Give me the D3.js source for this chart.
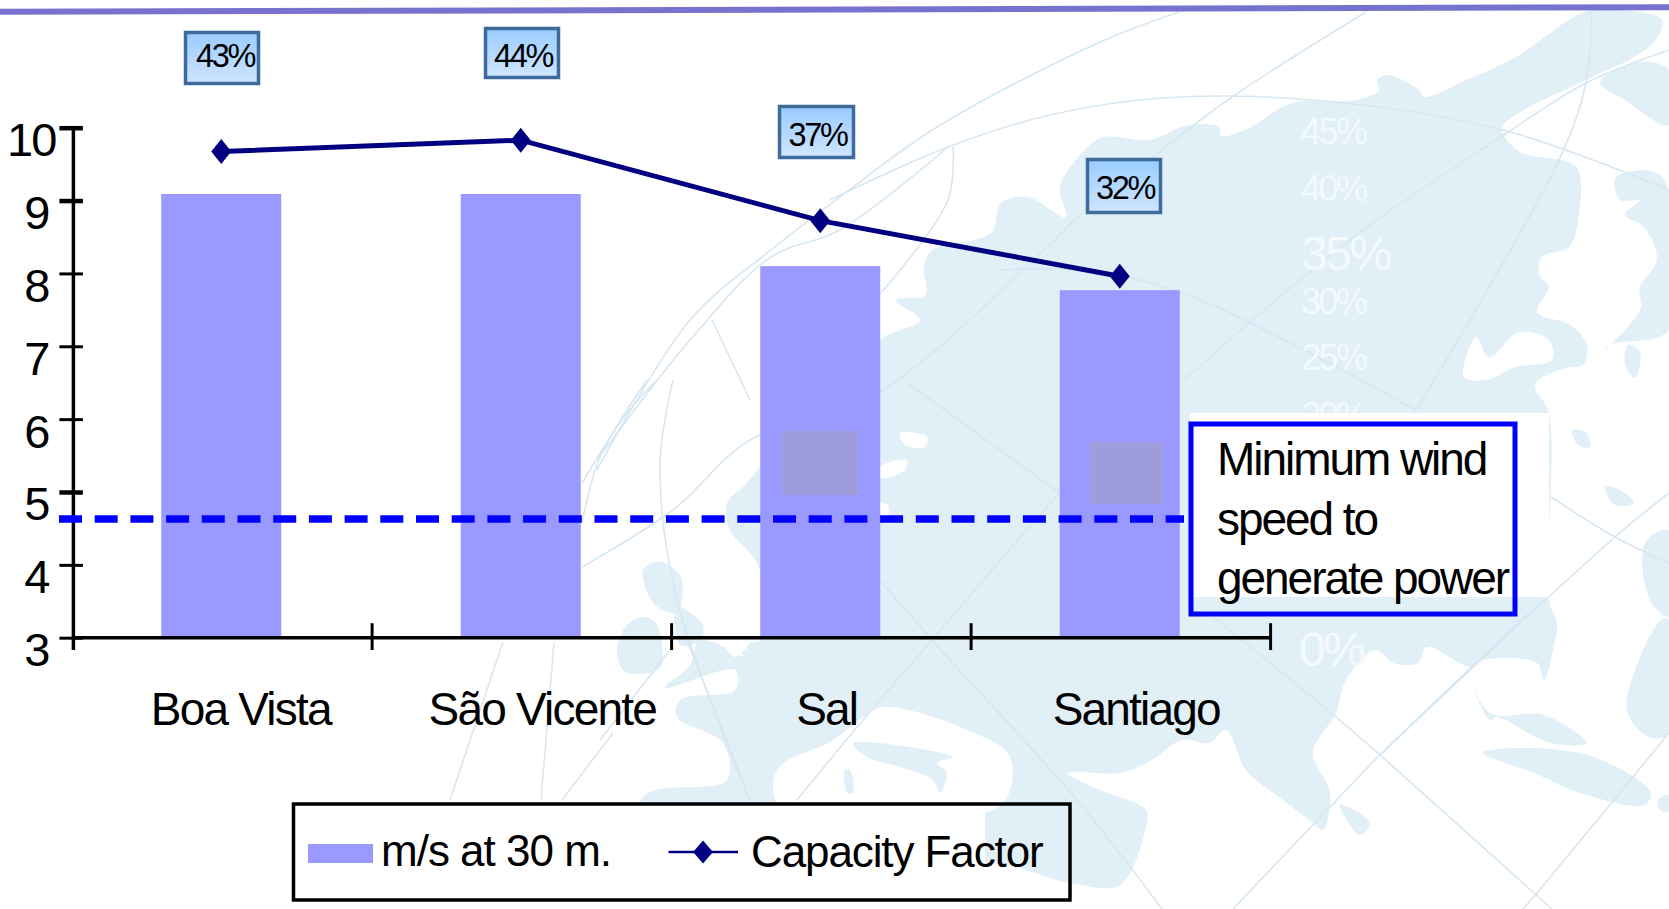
<!DOCTYPE html>
<html><head><meta charset="utf-8">
<style>html,body{margin:0;padding:0;background:#fff}svg{display:block}text{font-family:"Liberation Sans",Arial,sans-serif;fill:#000}</style>
<script src="https://cdn.jsdelivr.net/npm/d3@7"></script></head><body>
<svg id="c" width="1669" height="909"></svg>
<script>
// ---- chart data ----
const categories = ["Boa Vista", "São Vicente", "Sal", "Santiago"];
const windSpeed = [9.09, 9.09, 8.1, 7.77];
const capacityFactor = [42.9, 43.9, 36.8, 31.9];
const capacityLabels = ["43%", "44%", "37%", "32%"];
const minWindSpeed = 4.63;
const speedTicks = [3, 4, 5, 6, 7, 8, 9, 10];
const ghostPercentTicks = [45, 40, 35, 30, 25, 20, 0];
const seriesNames = ["m/s at 30 m.", "Capacity Factor"];
const noteLines = ["Minimum wind", "speed to", "generate power"];

// ---- layout (not data) ----
const labelBoxes = [[184, 31, 76, 54], [484, 27, 76, 52], [778, 105, 77, 54], [1086, 158, 76, 56]];
const labelBaselines = [36, 40, 41, 41];
const catLabelDx = [19, 21, 6, 16];
const ghostStyle = {45:[1301,144,36],40:[1301,201,36],35:[1301,270,48],30:[1301,314,36],25:[1301,370,36],20:[1301,428,36],0:[1299,666,48]};
const grayPatches = [[782, 431, 76, 64], [1090, 442, 73, 62]];

// ---- decorative background map (pale world map behind the chart) ----
const mainLand = [[924,267],[932,250],[991,233],[1001,203],[1028,197],[1066,217],[1060,187],[1085,150],[1103,137],[1149,140],[1189,125],[1219,127],[1221,136],[1249,128],[1292,103],[1356,100],[1379,90],[1377,80],[1387,75],[1419,90],[1424,97],[1466,80],[1516,57],[1569,20],[1592,10],[1640,12],[1662,20],[1656,40],[1629,60],[1592,77],[1502,127],[1507,140],[1522,153],[1576,167],[1579,213],[1569,247],[1542,257],[1539,275],[1549,287],[1537,312],[1570,325],[1587,345],[1583,365],[1565,368],[1535,385],[1549,413],[1549,600],[1557,623],[1555,640],[1544,680],[1537,663],[1483,660],[1470,667],[1427,647],[1418,663],[1393,663],[1376,650],[1346,680],[1336,713],[1313,753],[1330,793],[1323,830],[1313,823],[1283,800],[1246,770],[1226,730],[1209,743],[1182,740],[1149,762],[1120,773],[1067,773],[1100,790],[1146,810],[1146,827],[1120,885],[1075,884],[985,862],[640,880],[643,797],[727,780],[723,743],[677,717],[680,700],[735,690],[735,670],[665,688],[690,665],[700,640],[745,657],[725,640],[760,640],[760,570],[750,553],[730,530],[727,503],[747,483],[760,467],[880,340],[920,320],[895,300],[925,295]];
const seaPatches = [
 [[883,707],[967,730],[1010,757],[1000,806],[780,806],[777,770],[833,740],[863,717]],
 [[1476,337],[1489,357],[1519,332],[1549,340],[1552,360],[1516,367],[1486,380],[1464,377]],
 [[900,433],[927,437],[925,447],[905,445]],
 [[880,467],[907,460],[905,470],[880,478]],
 [[880,503],[888,505],[888,515],[880,515]],
 [[723,640],[750,640],[735,657]]
];
const landPatches = [
 [[853,743],[953,757],[937,763],[947,773],[940,793],[933,780],[900,767],[867,757]],
 [[845,770],[850,770],[853,793],[847,793]],
 [[643,570],[660,562],[680,575],[682,600],[677,613],[655,605]],
 [[627,625],[645,617],[657,625],[662,645],[660,668],[625,672],[617,650]],
 [[677,607],[703,625],[700,640],[680,645]],
 [[1340,805],[1370,823],[1360,835],[1350,825]],
 [[1483,753],[1517,748],[1594,757],[1651,793],[1644,805],[1580,793],[1534,773]],
 [[1467,670],[1490,713],[1544,715],[1587,743],[1550,743],[1497,717],[1490,720]],
 [[1661,620],[1627,710],[1651,738],[1669,733],[1669,620]],
 [[1658,800],[1669,795],[1669,812],[1660,810]],
 [[1600,82],[1625,100],[1669,125],[1669,70],[1640,62]],
 [[1616,177],[1654,172],[1669,190],[1669,330],[1610,345],[1600,355],[1640,310],[1640,287],[1657,260],[1644,227],[1625,215],[1640,200],[1620,200]],
 [[1628,345],[1640,352],[1635,378],[1625,365]],
 [[1605,487],[1620,490],[1634,503],[1615,505]],
 [[1645,543],[1669,530],[1669,617],[1650,600]],
 [[1572,430],[1585,432],[1590,447],[1578,445]]
];
const gridCurves = [
 [[830,200],[948,147],[1050,115],[1162,98],[1312,100],[1503,130],[1669,190]],
 [[597,460],[696,333],[771,257],[840,230],[948,147]],
 [[597,470],[690,320],[771,250],[840,197],[937,127],[1098,43],[1179,12]],
 [[1366,12],[1232,97],[1162,150],[1082,213],[1044,250],[878,393],[750,440],[673,510],[582,567]],
 [[953,147],[948,200],[881,293]],
 [[712,320],[750,400]],
 [[673,380],[660,463],[677,600],[750,800]],
 [[657,380],[627,413],[582,483]],
 [[647,380],[600,457],[582,523]],
 [[503,642],[450,800]],
 [[554,643],[541,800]],
 [[613,733],[562,800]],
 [[1000,270],[1090,270],[1182,293],[1249,322],[1416,410]],
 [[1213,617],[1336,717],[1380,755],[1534,893],[1552,909]],
 [[1181,383],[1249,323],[1359,233],[1507,133],[1586,83],[1669,50]],
 [[1592,10],[1586,83],[1559,160],[1416,410]],
 [[1543,600],[1380,755],[1330,807],[1233,909]],
 [[1669,733],[1537,893],[1523,909]],
 [[1551,497],[1615,537],[1669,563]],
 [[1669,493],[1615,537],[1382,753]],
 [[880,580],[932,640],[1077,800],[1162,909]],
 [[907,383],[1060,493]],
 [[1060,493],[1044,510],[932,640],[863,720],[797,800]],
 [[687,640],[750,800]],
 [[670,650],[600,740]]
];

// ---- scales ----
const W = 1669, H = 909;
const svg = d3.select("#c");
const x = d3.scaleBand().domain(categories).range([72, 1270]).padding(0);
const y = d3.scaleLinear().domain([3, 10]).range([637.7, 127.7]);
const yCap = d3.scaleLinear().domain([0, 45]).range([637.7, 127.7]);
const barW = 120;

// ---- background ----
const land = "#e1eff7", gridCol = "#d6e7f2";
svg.append("defs").append("filter").attr("id","soft").append("feGaussianBlur").attr("stdDeviation",0.7);
const bg = svg.append("g").attr("filter","url(#soft)");
const poly = d3.line().curve(d3.curveCatmullRomClosed.alpha(0.5));
const curve = d3.line().curve(d3.curveCatmullRom.alpha(0.5));
bg.append("path").attr("d", poly(mainLand)).attr("fill", land);
bg.selectAll("path.sea").data(seaPatches).join("path").attr("class","sea").attr("d", poly).attr("fill", "#fff");
bg.selectAll("path.isl").data(landPatches).join("path").attr("class","isl").attr("d", poly).attr("fill", land);
bg.selectAll("path.grid").data(gridCurves).join("path").attr("class","grid").attr("d", curve)
  .attr("fill","none").attr("stroke",gridCol).attr("stroke-width",1.6);

// header rule
svg.append("line").attr("x1",0).attr("y1",11.8).attr("x2",W).attr("y2",7.2)
  .attr("stroke","#7672cd").attr("stroke-width",6);

// ghost white percent labels of the underlying slide
svg.append("g").selectAll("text").data(ghostPercentTicks).join("text")
  .attr("x", d => ghostStyle[d][0]).attr("y", d => ghostStyle[d][1])
  .attr("font-size", d => ghostStyle[d][2]).attr("letter-spacing", -2.5)
  .style("fill","#f4f9fc").text(d => d + "%");

// white patches hiding the background
svg.append("rect").attr("x",1190).attr("y",413).attr("width",359).attr("height",184).attr("fill","#fff");
svg.append("rect").attr("x",293).attr("y",804).attr("width",692).attr("height",96).attr("fill","#fff");

// ---- bars ----
svg.append("g").selectAll("rect").data(categories).join("rect")
  .attr("x", d => x(d) + x.bandwidth()/2 - barW/2 - 0.5)
  .attr("width", barW)
  .attr("y", (d,i) => y(windSpeed[i]))
  .attr("height", (d,i) => y(3) - y(windSpeed[i]))
  .attr("fill", "#9999ff");
svg.append("g").selectAll("rect").data(grayPatches).join("rect")
  .attr("x", d=>d[0]).attr("y", d=>d[1]).attr("width", d=>d[2]).attr("height", d=>d[3]).attr("fill","#9f9cdc");

// ---- axes ----
const gy = svg.append("g").attr("transform","translate(73.4,0)")
  .call(d3.axisLeft(y).tickValues(speedTicks).tickFormat(d3.format("d")).tickSize(14).tickPadding(0));
gy.select(".domain").attr("d","M0,127.7V650").attr("stroke","#000").attr("stroke-width",3.5);
gy.selectAll(".tick line").attr("x1",-14).attr("x2",9.5).attr("stroke","#000").attr("stroke-width",d=>d>=9||d==5?4.5:3);
gy.selectAll(".tick text").attr("x",d=>d===10?-18:-25).attr("y",0).attr("dy",28)
  .attr("font-size",47).attr("letter-spacing",-2).attr("font-family",'"Liberation Sans"').style("fill","#000");

const gx = svg.append("g").attr("transform","translate(0,637.7)")
  .call(d3.axisBottom(x).tickSize(0).tickPadding(0));
gx.select(".domain").attr("d","M73.4,0H1270").attr("stroke","#000").attr("stroke-width",3.5);
gx.selectAll(".tick text").attr("y",87).attr("dy",0).attr("dx",(d,i)=>catLabelDx[i])
  .attr("font-size",46).attr("letter-spacing",-1.8).attr("font-family",'"Liberation Sans"').style("fill","#000");
gx.selectAll(".sep").data(categories).join("line").attr("class","sep")
  .attr("x1",d=>x(d)+x.bandwidth()+0.6).attr("x2",d=>x(d)+x.bandwidth()+0.6).attr("y1",-14.5).attr("y2",12.3)
  .attr("stroke","#000").attr("stroke-width",3);

// ---- threshold ----
svg.append("line").attr("x1",59).attr("x2",1184).attr("y1",y(minWindSpeed)).attr("y2",y(minWindSpeed))
  .attr("stroke","#0000ff").attr("stroke-width",7.5).attr("stroke-dasharray","23 12.7");

// ---- capacity factor line ----
const cx = d => x(d) + x.bandwidth()/2 - 0.5;
const diamond = (w,h) => `M0,${-h}L${w},0L0,${h}L${-w},0Z`;
svg.append("path").attr("d", d3.line().x(d=>cx(d)).y((d,i)=>yCap(capacityFactor[i]))(categories))
  .attr("fill","none").attr("stroke","#000080").attr("stroke-width",5);
svg.append("g").selectAll("path").data(categories).join("path")
  .attr("transform",(d,i)=>`translate(${cx(d)},${yCap(capacityFactor[i])})`)
  .attr("d",diamond(10,12.5)).attr("fill","#000080");

// ---- value labels ----
const grad = svg.select("defs").append("linearGradient").attr("id","lb").attr("x1",0).attr("x2",0).attr("y1",0).attr("y2",1);
grad.append("stop").attr("offset",0).attr("stop-color","#99ccff");
grad.append("stop").attr("offset",1).attr("stop-color","#cfe5ff");
const lab = svg.append("g").selectAll("g").data(capacityLabels).join("g")
  .attr("transform",(d,i)=>`translate(${labelBoxes[i][0]},${labelBoxes[i][1]})`);
lab.append("rect").attr("x",1.5).attr("y",1.5)
  .attr("width",(d,i)=>labelBoxes[i][2]-3).attr("height",(d,i)=>labelBoxes[i][3]-3)
  .attr("fill","url(#lb)").attr("stroke","#3f6a9c").attr("stroke-width",3.5);
lab.append("text").attr("x",(d,i)=>labelBoxes[i][2]/2+(i==0?3:1)).attr("y",(d,i)=>labelBaselines[i])
  .attr("text-anchor","middle").attr("font-size",32.5).attr("letter-spacing",-2.4).text(d=>d);

// ---- note box ----
svg.append("rect").attr("x",1191).attr("y",424).attr("width",324).attr("height",190)
  .attr("fill","none").attr("stroke","#0000ff").attr("stroke-width",5);
svg.append("g").selectAll("text").data(noteLines).join("text")
  .attr("x",1217).attr("y",(d,i)=>475+i*59.5).attr("font-size",46).attr("letter-spacing",-2.05)
  .text(d=>d);

// ---- legend ----
svg.append("rect").attr("x",293.5).attr("y",804).attr("width",776.5).attr("height",96)
  .attr("fill","none").attr("stroke","#000").attr("stroke-width",3.5);
svg.append("rect").attr("x",308).attr("y",844).attr("width",65).attr("height",19).attr("fill","#9999ff");
svg.append("text").attr("x",381).attr("y",866).attr("font-size",44).attr("letter-spacing",-1).text(seriesNames[0]);
svg.append("line").attr("x1",668.5).attr("x2",738).attr("y1",852).attr("y2",852).attr("stroke","#000080").attr("stroke-width",2.5);
svg.append("path").attr("transform","translate(703,852)").attr("d",diamond(10,11.5)).attr("fill","#000080");
svg.append("text").attr("x",751).attr("y",867).attr("font-size",44).attr("letter-spacing",-1.1).text(seriesNames[1]);
</script></body></html>
